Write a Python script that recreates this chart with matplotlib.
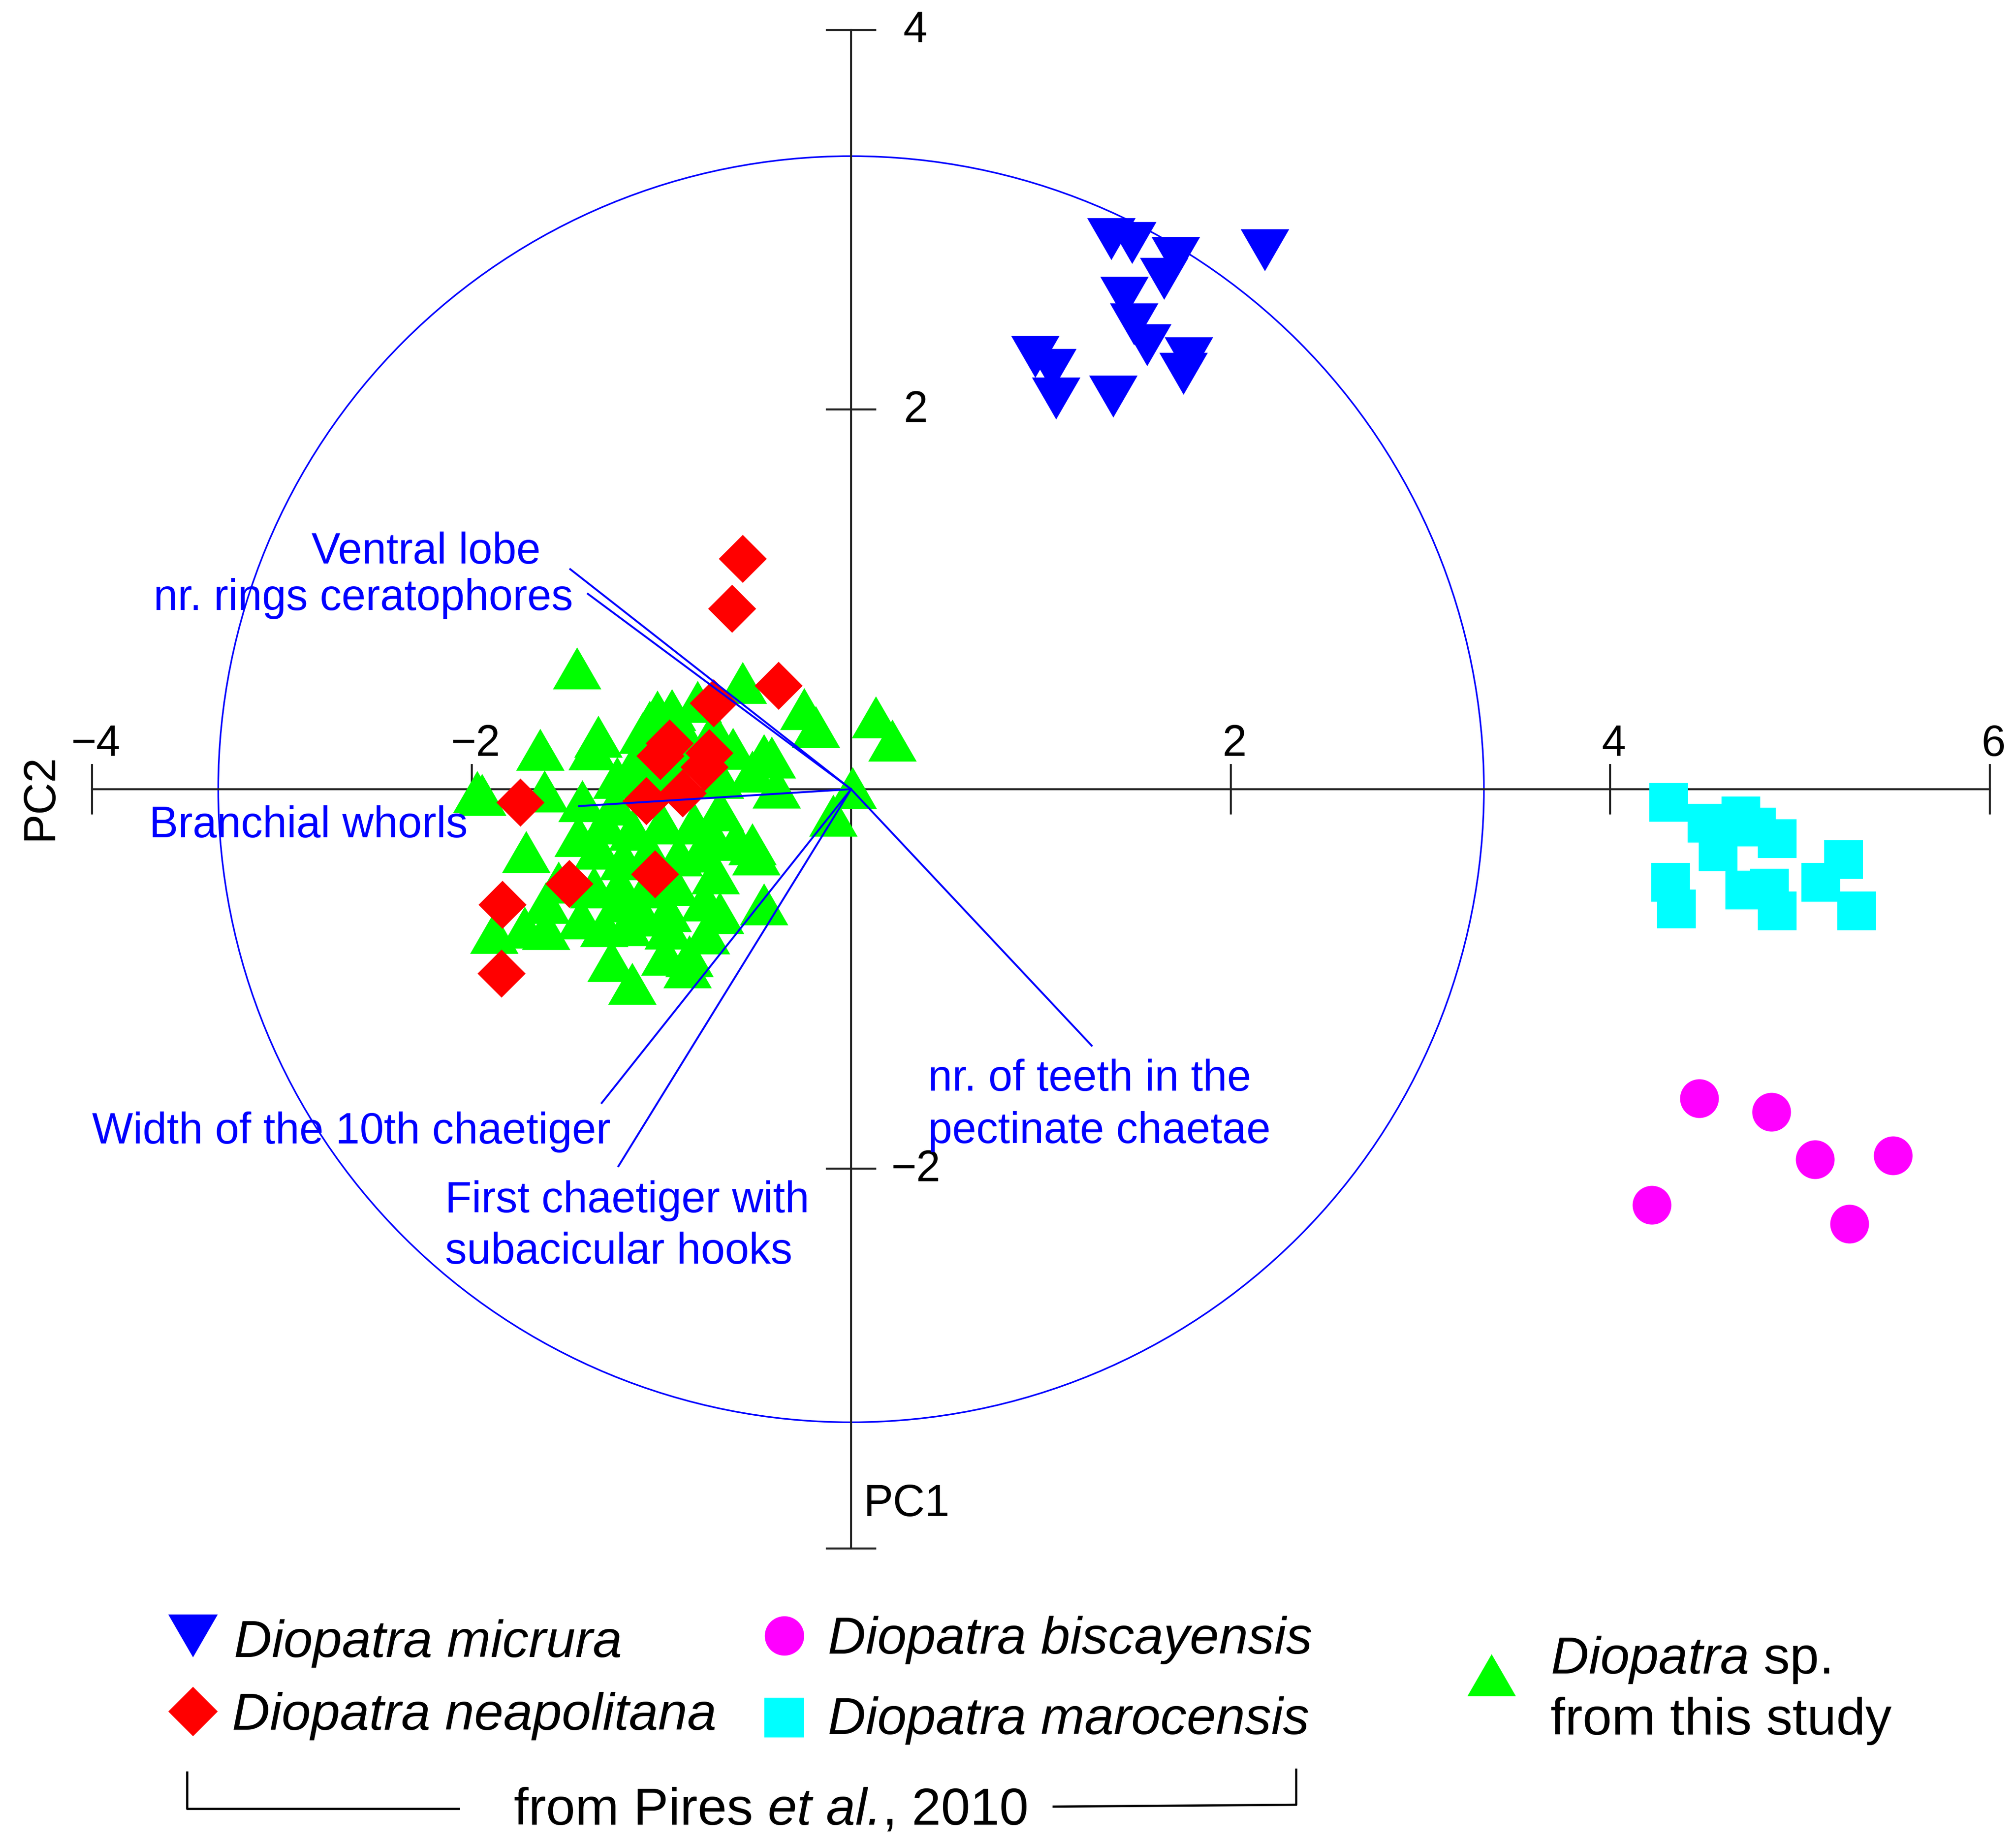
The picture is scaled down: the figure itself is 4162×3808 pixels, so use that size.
import numpy as np
import matplotlib
matplotlib.use("Agg")
import matplotlib.pyplot as plt
from matplotlib.patches import Circle
from matplotlib.path import Path

plt.rcParams['font.family'] = ['Liberation Sans', 'DejaVu Sans']
plt.rcParams['mathtext.fontset'] = 'custom'
plt.rcParams['mathtext.rm'] = 'Liberation Sans'
plt.rcParams['mathtext.it'] = 'Liberation Sans:italic'

# ---------------------------------------------------------------- data
micrura_x = [1.37, 1.48, 1.71, 1.65, 2.18, 1.44, 1.49, 1.56, 1.78, 1.75, 0.97, 1.06, 1.08, 1.38]
micrura_y = [2.90, 2.88, 2.80, 2.69, 2.84, 2.59, 2.45, 2.34, 2.27, 2.19, 2.28, 2.21, 2.06, 2.07]

marocensis_x = [4.31, 4.51, 4.69, 4.77, 4.88, 4.57, 4.32, 4.35, 4.71, 4.84, 4.88, 5.23, 5.11, 5.30]
marocensis_y = [-0.07, -0.18, -0.14, -0.20, -0.26, -0.33, -0.49, -0.63, -0.53, -0.52, -0.64, -0.37, -0.49, -0.64]

biscayensis_x = [4.47, 4.85, 5.08, 5.49, 4.22, 5.26]
biscayensis_y = [-1.63, -1.70, -1.95, -1.93, -2.19, -2.29]

neapolitana_x = [-0.571, -0.629, -0.382, -0.724, -0.958, -1.007, -0.749, -0.774,
                 -0.888, -1.081, -1.744, -1.486, -1.033, -1.839, -1.842]
neapolitana_y = [1.215, 0.952, 0.547, 0.454, 0.243, 0.176, 0.192, 0.116,
                 -0.020, -0.062, -0.070, -0.497, -0.446, -0.609, -0.971]

study_x = [-1.446, -1.640, -1.333, -1.364, -1.971, -1.945, -1.615, -1.417, -1.247, -1.022,
           -0.944, -1.062, -1.141, -0.809, -0.571, -0.247, -0.186, 0.131, 0.217, 0.007,
           -0.094, -0.460, -0.418, -0.394, -1.713, -1.541, -1.881, -1.720, -1.607, -1.423,
           -1.609, -1.181, -1.217, -1.264, -1.154, -0.979, -0.864, -0.967, -0.520, -0.501,
           -0.605, -0.720, -0.715, -0.460, -0.766, -0.852,
           -1.098, -0.894, -0.725, -0.623, -0.827, -1.233, -1.064, -0.928, -0.691, -0.522,
           -1.301, -1.152, -0.996, -0.827, -0.691, -1.335, -1.199, -1.064, -0.908, -0.793,
           -1.355, -1.220, -1.077, -0.928, -0.772, -1.098, -1.301, -0.962, -0.691, -1.436]
study_y = [0.637, 0.209, 0.279, 0.211, -0.014, -0.028, -0.011, -0.062, -0.079, 0.411,
           0.417, 0.356, 0.137, 0.462, 0.560, 0.424, 0.330, 0.381, 0.258, 0.007,
           -0.139, 0.182, 0.168, 0.009, -0.329, -0.491, -0.755, -0.729, -0.735, -0.680,
           -0.598, -0.714, -0.589, -0.904, -1.023, -0.871, -0.938, -0.641, -0.289, -0.343,
           -0.266, -0.262, -0.442, -0.606, -0.759, -0.878,
           0.297, 0.310, 0.310, 0.215, 0.195, 0.060, 0.094, 0.094, 0.060, 0.094,
           -0.178, -0.212, -0.178, -0.178, -0.110, -0.313, -0.367, -0.327, -0.347, -0.327,
           -0.516, -0.503, -0.516, -0.503, -0.584, -0.665, -0.720, -0.733, -0.651, -0.246]

# variable vectors (end points)
vector_x = [-1.480, -1.387, -1.434, 1.268, -1.314, -1.226]
vector_y = [1.159, 1.029, -0.089, -1.351, -1.653, -1.986]

circle_radius = 3.335

x_ticks = [-4, -2, 2, 4, 6]
x_tick_labels = ['\u22124', '\u22122', '2', '4', '6']
y_ticks = [4, 2, -2, -4]
y_tick_labels = ['4', '2', '\u22122', '']

# ---------------------------------------------------------------- figure
fig = plt.figure(figsize=(4162.4 / 300, 3808.4 / 300), dpi=300)
ax = fig.add_axes([0, 0, 1, 1])
ax.set_xlim(-4.485, 6.140)
ax.set_ylim(-5.562, 4.1585)
ax.axis('off')

axis_color = '#222222'
blue = '#0000FF'

# correlation circle
ax.add_patch(Circle((0, 0), circle_radius, fill=False, edgecolor=blue, lw=0.8, zorder=1))

# axes through the origin
ax.plot([-4, 6], [0, 0], color=axis_color, lw=1.0, zorder=1)
ax.plot([0, 0], [-4, 4], color=axis_color, lw=1.0, zorder=1)
tick_half = 0.127
for t, lab in zip(x_ticks, x_tick_labels):
    ax.plot([t, t], [-tick_half, tick_half], color=axis_color, lw=1.0, zorder=1)
    ax.text(t + 0.02, 0.176, lab, fontsize=21.5, ha='center', va='baseline')
for t, lab in zip(y_ticks, y_tick_labels):
    ax.plot([-tick_half, tick_half], [t, t], color=axis_color, lw=1.0, zorder=1)
    ax.text(0.34, t + 0.02, lab, fontsize=21.5, ha='center', va='center_baseline')

ax.text(0.064, -3.827, 'PC1', fontsize=22, ha='left', va='baseline')
ax.text(-4.272, -0.039, 'PC2', fontsize=22, ha='center', va='center', rotation=90)

# markers
tri_up = Path([(-1, -0.866), (1, -0.866), (0, 0.866), (-1, -0.866)],
              [Path.MOVETO, Path.LINETO, Path.LINETO, Path.CLOSEPOLY])
tri_down = Path([(-1, 0.866), (1, 0.866), (0, -0.866), (-1, 0.866)],
                [Path.MOVETO, Path.LINETO, Path.LINETO, Path.CLOSEPOLY])
diamond = Path([(0, 1), (1, 0), (0, -1), (-1, 0), (0, 1)],
               [Path.MOVETO, Path.LINETO, Path.LINETO, Path.LINETO, Path.CLOSEPOLY])

ax.plot(micrura_x, micrura_y, ls='none', marker=tri_down, ms=24, mew=0, color='#0000FF', zorder=3)
ax.plot(marocensis_x, marocensis_y, ls='none', marker='s', ms=19.3, mew=0, color='#00FFFF', zorder=3)
ax.plot(biscayensis_x, biscayensis_y, ls='none', marker='o', ms=19.2, mew=0, color='#FF00FF', zorder=3)
ax.plot(study_x, study_y, ls='none', marker=tri_up, ms=24, mew=0, color='#00FF00', zorder=3)
ax.plot(neapolitana_x, neapolitana_y, ls='none', marker=diamond, ms=23.8, mew=0, color='#FF0000', zorder=4)

# variable vectors
for vx, vy in zip(vector_x, vector_y):
    ax.plot([0, vx], [0, vy], color=blue, lw=0.95, zorder=5)

lab_kw = dict(fontsize=21.5, color=blue, va='baseline', zorder=6)
ax.text(-1.637, 1.190, 'Ventral lobe', ha='right', **lab_kw)
ax.text(-1.464, 0.945, 'nr. rings ceratophores', ha='right', **lab_kw)
ax.text(-3.700, -0.253, 'Branchial whorls', ha='left', **lab_kw)
ax.text(0.405, -1.587, 'nr. of teeth in the', ha='left', **lab_kw)
ax.text(0.405, -1.862, 'pectinate chaetae', ha='left', **lab_kw)
ax.text(-1.267, -1.864, 'Width of the 10th chaetiger', ha='right', **lab_kw)
ax.text(-2.140, -2.227, 'First chaetiger with', ha='left', **lab_kw)
ax.text(-2.140, -2.498, 'subacicular hooks', ha='left', **lab_kw)

# ---------------------------------------------------------------- legend
T = ax.transAxes
leg_fs = 26
ax.plot([0.0957], [0.1135], transform=T, ls='none', marker=tri_down, ms=24.5, mew=0, color='#0000FF')
ax.text(0.1160, 0.1021, 'Diopatra micrura', transform=T, fontsize=leg_fs, style='italic', va='baseline')
ax.plot([0.0957], [0.0725], transform=T, ls='none', marker=diamond, ms=24.5, mew=0, color='#FF0000')
ax.text(0.1150, 0.0626, 'Diopatra neapolitana', transform=T, fontsize=leg_fs, style='italic', va='baseline')
ax.plot([0.3890], [0.1135], transform=T, ls='none', marker='o', ms=19.5, mew=0, color='#FF00FF')
ax.text(0.4105, 0.1037, 'Diopatra biscayensis', transform=T, fontsize=leg_fs, style='italic', va='baseline')
ax.plot([0.3890], [0.0691], transform=T, ls='none', marker='s', ms=19.5, mew=0, color='#00FFFF')
ax.text(0.4105, 0.0603, 'Diopatra marocensis', transform=T, fontsize=leg_fs, style='italic', va='baseline')
ax.plot([0.7396], [0.0921], transform=T, ls='none', marker=tri_up, ms=24, mew=0, color='#00FF00')
ax.text(0.7690, 0.0930, r'$\mathit{Diopatra}$ sp.', transform=T, fontsize=leg_fs, va='baseline')
ax.text(0.7690, 0.0600, 'from this study', transform=T, fontsize=leg_fs, va='baseline')

# bracket under the Pires et al. species
ax.plot([0.0928, 0.0928, 0.2276], [0.0394, 0.0197, 0.0197], transform=T, color='black', lw=1.1)
ax.plot([0.5226, 0.6429, 0.6429], [0.0208, 0.0218, 0.0408], transform=T, color='black', lw=1.1)
p1 = ax.text(0.2550, 0.0112, 'from Pires', transform=T, fontsize=leg_fs, va='baseline')
p2 = ax.annotate('et al.', xy=(1, 0), xycoords=p1, xytext=(7.2, 0), textcoords='offset points',
                 fontsize=leg_fs, style='italic', ha='left', va='bottom')
ax.annotate(', 2010', xy=(1, 0), xycoords=p2, xytext=(0.5, 0), textcoords='offset points',
            fontsize=leg_fs, ha='left', va='bottom')

fig.savefig('out.png', dpi=300)
